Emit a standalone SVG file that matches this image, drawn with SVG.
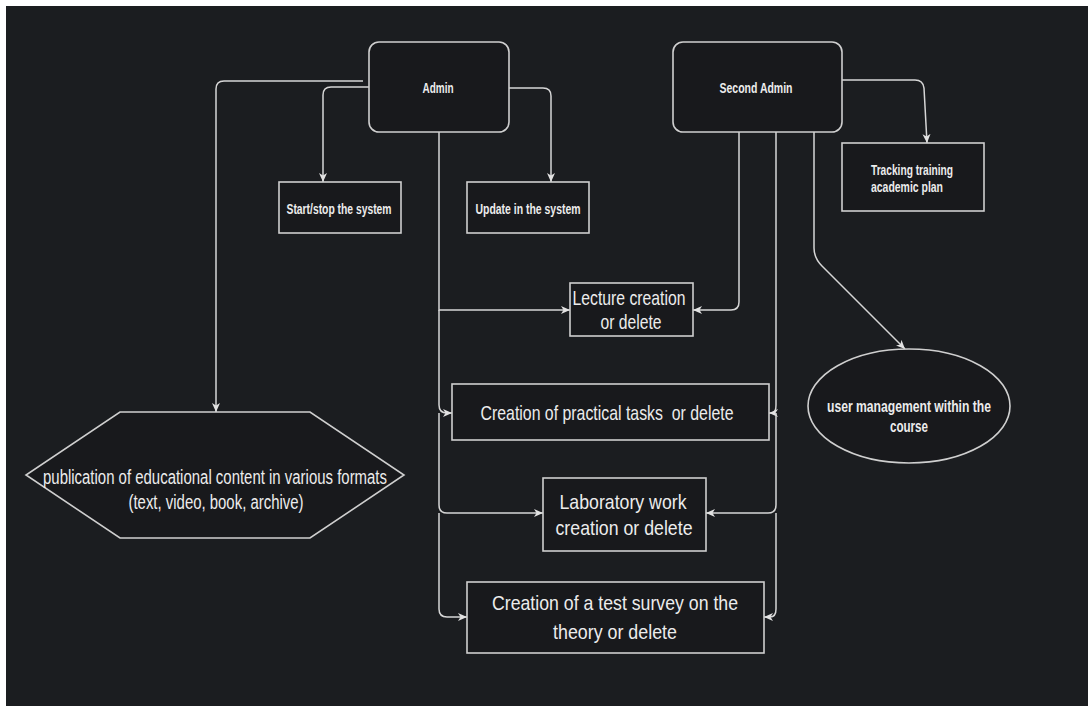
<svg xmlns="http://www.w3.org/2000/svg" width="1088" height="706" viewBox="0 0 1088 706">
  <style>
    .node { fill: #18191c; stroke: #cfcfcf; stroke-width: 1.6; }
    .edge { fill: none; stroke: #d6d6d6; stroke-width: 1.5; }
    .lbl { fill: #ececec; font-family: "Liberation Sans", Arial, sans-serif; text-anchor: middle; }
    .start { text-anchor: start; }
    .sm { font-size: 15px; font-weight: bold; }
    .lg { font-size: 21px; }
    .md { font-size: 16px; font-weight: bold; }
  </style>
  <defs>
    <marker id="arrow" markerUnits="userSpaceOnUse" markerWidth="10" markerHeight="9" refX="9" refY="4.5" orient="auto">
      <path d="M0,0.5 L9,4.5 L0,8.5 L2.5,4.5 Z" fill="#e2e2e2"/>
    </marker>
  </defs>

  <!-- canvas -->
  <rect x="0" y="0" width="1088" height="706" fill="#ffffff"/>
  <rect x="6" y="6" width="1082" height="700" fill="#1b1d20"/>

  <!-- connectors -->
  <g id="connectors" class="edge">
    <!-- from Admin -->
    <path d="M363,81 H224 Q216,81 216,89 V412" marker-end="url(#arrow)"/>
    <path d="M369,87 H331 Q323,87 323,95 V182" marker-end="url(#arrow)"/>
    <path d="M509,88 H543 Q551,88 551,96 V182" marker-end="url(#arrow)"/>
    <path d="M439,132 V310 H570" marker-end="url(#arrow)"/>
    <path d="M439,310 V405 Q439,413 447,413 H452" marker-end="url(#arrow)"/>
    <path d="M439,413 V505 Q439,513 447,513 H543" marker-end="url(#arrow)"/>
    <path d="M439,513 V609 Q439,617 447,617 H467" marker-end="url(#arrow)"/>
    <!-- from Second Admin -->
    <path d="M739,132 V302 Q739,310 731,310 H693" marker-end="url(#arrow)"/>
    <path d="M776,132 V405 Q776,413 772,413 H769" marker-end="url(#arrow)"/>
    <path d="M776,413 V505 Q776,513 768,513 H706" marker-end="url(#arrow)"/>
    <path d="M776,513 V609 Q776,617 770,617 H764" marker-end="url(#arrow)"/>
    <path d="M814,132 V248 Q814,258 822,266 L905,349" marker-end="url(#arrow)"/>
    <path d="M842,80 H915 Q923,80 924,88 L927,143" marker-end="url(#arrow)"/>
  </g>

  <g id="admin">
    <rect class="node" x="369" y="42" width="140" height="90" rx="10"/>
    <text class="lbl sm" x="438" y="93" textLength="31" lengthAdjust="spacingAndGlyphs">Admin</text>
  </g>

  <g id="second-admin">
    <rect class="node" x="673" y="42" width="169" height="90" rx="10"/>
    <text class="lbl sm" x="756" y="93" textLength="73" lengthAdjust="spacingAndGlyphs">Second Admin</text>
  </g>

  <g id="start-stop">
    <rect class="node" x="279" y="182" width="122" height="51"/>
    <text class="lbl sm" x="339" y="214" textLength="105" lengthAdjust="spacingAndGlyphs">Start/stop the system</text>
  </g>

  <g id="update">
    <rect class="node" x="467" y="182" width="122" height="51"/>
    <text class="lbl sm" x="528" y="214" textLength="105" lengthAdjust="spacingAndGlyphs">Update in the system</text>
  </g>

  <g id="tracking">
    <rect class="node" x="842" y="143" width="142" height="68"/>
    <text class="lbl sm start" x="871" y="175" textLength="82" lengthAdjust="spacingAndGlyphs">Tracking training</text>
    <text class="lbl sm start" x="871" y="192" textLength="72" lengthAdjust="spacingAndGlyphs">academic plan</text>
  </g>

  <g id="lecture">
    <rect class="node" x="570" y="283" width="123" height="53"/>
    <text class="lbl lg" x="629" y="305" textLength="113" lengthAdjust="spacingAndGlyphs">Lecture creation</text>
    <text class="lbl lg" x="631" y="329" textLength="61" lengthAdjust="spacingAndGlyphs">or delete</text>
  </g>

  <g id="practical">
    <rect class="node" x="452" y="384" width="317" height="56"/>
    <text class="lbl lg" x="607" y="420" xml:space="preserve" textLength="253" lengthAdjust="spacingAndGlyphs">Creation of practical tasks  or delete</text>
  </g>

  <g id="laboratory">
    <rect class="node" x="543" y="478" width="163" height="73"/>
    <text class="lbl lg" x="623" y="509" textLength="127" lengthAdjust="spacingAndGlyphs">Laboratory work</text>
    <text class="lbl lg" x="624" y="535" textLength="137" lengthAdjust="spacingAndGlyphs">creation or delete</text>
  </g>

  <g id="survey">
    <rect class="node" x="467" y="582" width="297" height="71"/>
    <text class="lbl lg" x="615" y="610" textLength="246" lengthAdjust="spacingAndGlyphs">Creation of a test survey on the</text>
    <text class="lbl lg" x="615" y="639" textLength="124" lengthAdjust="spacingAndGlyphs">theory or delete</text>
  </g>

  <g id="publication">
    <polygon class="node" points="120,412 310,412 404,475 310,538 120,538 26,475"/>
    <text class="lbl lg" x="215" y="484" style="font-size:20px" textLength="344" lengthAdjust="spacingAndGlyphs">publication of educational content in various formats</text>
    <text class="lbl lg" x="216" y="509" style="font-size:20px" textLength="175" lengthAdjust="spacingAndGlyphs">(text, video, book, archive)</text>
  </g>

  <g id="user-management">
    <ellipse class="node" cx="909" cy="406" rx="101" ry="57"/>
    <text class="lbl md" x="909" y="412" textLength="164" lengthAdjust="spacingAndGlyphs">user management within the</text>
    <text class="lbl md" x="909" y="432" textLength="38" lengthAdjust="spacingAndGlyphs">course</text>
  </g>
</svg>
